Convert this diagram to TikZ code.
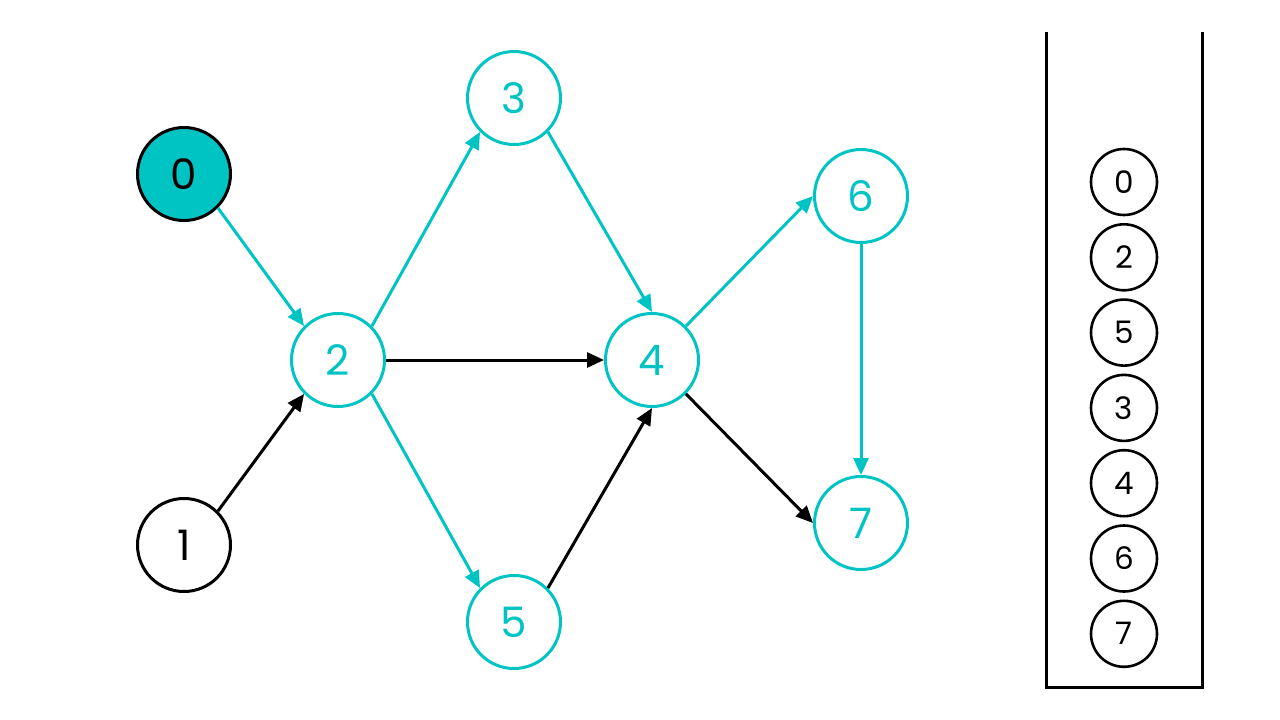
\documentclass[tikz,border=0pt]{standalone}
\usepackage{fontspec}
\setmainfont{Poppins}
\usetikzlibrary{arrows.meta}
\definecolor{teal}{RGB}{0,196,196}
\begin{document}
\begin{tikzpicture}[x=1pt,y=-1pt,
  vert/.style={circle,draw,line width=3pt,minimum size=93pt,inner sep=0pt,font=\fontsize{42}{42}\selectfont},
  tv/.style={vert,draw=teal,text=teal},
  bv/.style={vert,draw=black,text=black,fill=white},
  sv/.style={circle,draw=black,line width=2.6pt,minimum size=66pt,inner sep=0pt,font=\fontsize{31}{31}\selectfont},
  edge/.style={line width=3pt,-{Triangle[length=17pt,width=15pt]}},
  te/.style={edge,draw=teal,color=teal},
  be/.style={edge,draw=black}]
\useasboundingbox (0,0) rectangle (1280,720);
\node[vert,draw=black,fill=teal,text=black] (n0) at (184,174) {0};
\node[bv] (n1) at (184,545) {1};
\node[tv] (n2) at (338,360) {2};
\node[tv] (n3) at (514,98) {3};
\node[tv] (n4) at (652,360) {4};
\node[tv] (n5) at (514,622) {5};
\node[tv] (n6) at (861,196) {6};
\node[tv] (n7) at (861,523) {7};
\draw[te] (n0.south east) -- (n2.north west);
\draw[be] (n1.north east) -- (n2.south west);
\draw[te] (n2.north east) -- (n3.south west);
\draw[be] (n2.east) -- (n4.west);
\draw[te] (n2.south east) -- (n5.north west);
\draw[te] (n3.south east) -- (n4.north);
\draw[be] (n5.north east) -- (n4.south);
\draw[te] (n4.north east) -- (n6.west);
\draw[be] (n4.south east) -- (n7.west);
\draw[te] (n6.south) -- (n7.north);
\coordinate (sl) at (1046,32);
\coordinate (sr) at (1202,32);
\draw[line width=3pt] (sl) -- (1046,687) -- (1202,687) -- (sr);
\foreach \v [count=\i from 0] in {0,2,5,3,4,6,7}
  \node[sv] (s\i) at (1124,{182+75.3*\i}) {\v};
\end{tikzpicture}
\end{document}
